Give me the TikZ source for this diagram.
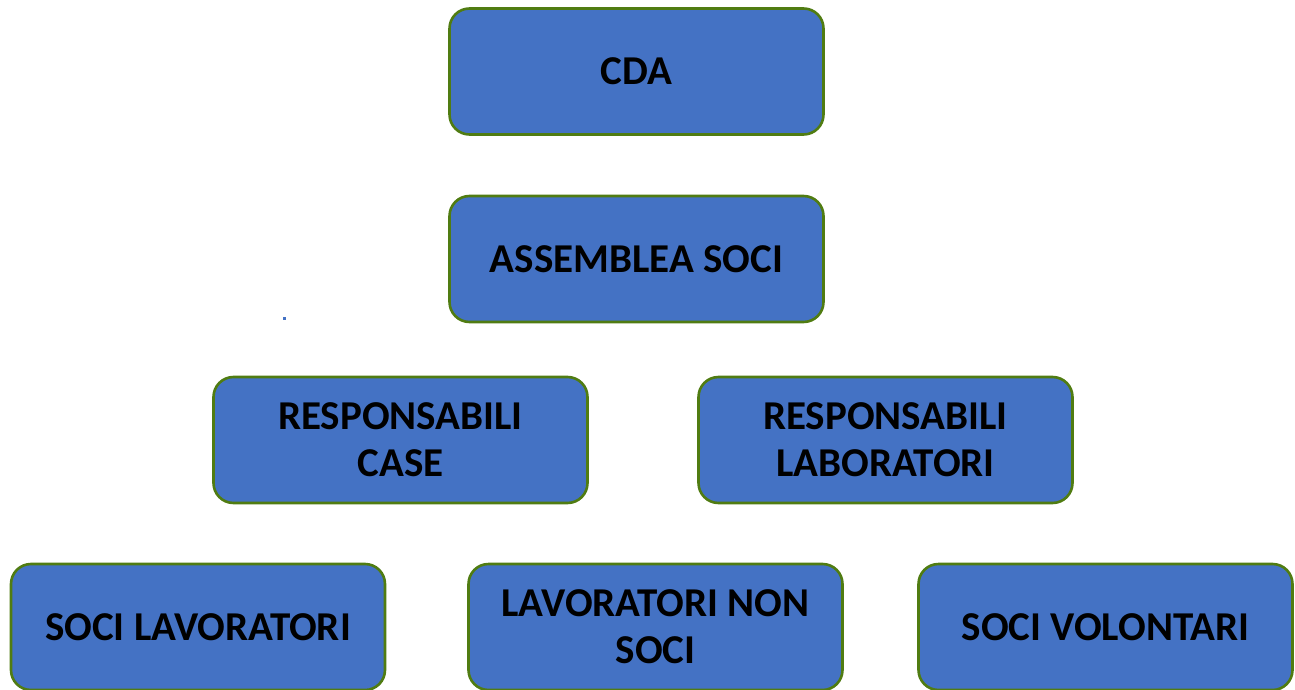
\documentclass[tikz,border=0pt]{standalone}
\usepackage{fontspec}
\setmainfont{Carlito}
\usepackage{tikz}

\definecolor{boxBlue}{HTML}{4472C4}
\definecolor{boxGreen}{HTML}{507C12}

\begin{document}
\begin{tikzpicture}[x=1pt, y=-1pt]
        \tikzstyle{boxStyle} = [draw=boxGreen, fill=boxBlue, line width=2.6pt,
          rounded corners=20pt, minimum width=374pt, minimum height=126pt,
          align=center, inner sep=0pt,
          font=\fontsize{41}{47}\selectfont\bfseries]
        \useasboundingbox (0,0) rectangle (1295,690);
        \node[boxStyle] (cda) at (636.5,71.5) {CDA};
        \node[boxStyle] (assemblea) at (636.5,259) {ASSEMBLEA SOCI};
        \node[boxStyle] (respCase) at (400.5,440) {RESPONSABILI\\CASE};
        \node[boxStyle] (respLab) at (885.5,440) {RESPONSABILI\\LABORATORI};
        \node[boxStyle] (sociLav) at (198,627) {SOCI LAVORATORI};
        \node[boxStyle] (lavNonSoci) at (655.5,627) {LAVORATORI NON\\SOCI};
        \node[boxStyle] (sociVol) at (1105.5,627) {SOCI VOLONTARI};
        \fill[boxBlue] (283,317) rectangle (285.5,319.5);
    \end{tikzpicture}
\end{document}
